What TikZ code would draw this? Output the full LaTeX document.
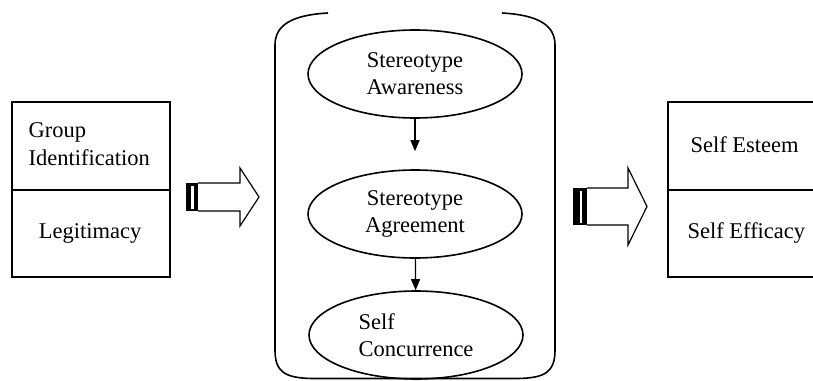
\documentclass[tikz,border=0pt]{standalone}
\usepackage{fontspec}
\setmainfont{Liberation Serif}
\usetikzlibrary{shapes.geometric,arrows.meta}
\begin{document}
\begin{tikzpicture}[x=1pt,y=-1pt,
  txt/.style={font=\fontsize{22.5}{27}\selectfont},
  boxpart/.style={draw,line width=1.6pt,minimum width=158pt,inner sep=0pt,anchor=north west},
  oval/.style={draw,ellipse,line width=1.6pt,minimum width=214pt,minimum height=88pt,inner sep=0pt,txt,align=center},
  flow/.style={line width=1.2pt,-{Triangle[length=11pt,width=9pt]}},
  bigarrow/.style={draw,line width=1.2pt,fill=white,line join=miter}]
\useasboundingbox (0,0) rectangle (813,380);
% left box
\node[boxpart,minimum height=88pt] (gi) at (11,101) {};
\node[boxpart,minimum height=87pt] (lg) at (11,189) {};
\node[txt,anchor=base west,align=left] (gitxt) at (25,137) {Group};
\node[txt,anchor=base west] (gitxt2) at (25,165) {Identification};
\node[txt,anchor=base] (lgtxt) at (90,238) {Legitimacy};
% right box
\node[boxpart,minimum width=170pt,minimum height=88pt] (se) at (667,101) {};
\node[boxpart,minimum width=170pt,minimum height=87pt] (sf) at (667,189) {};
\node[txt,anchor=base west] (setxt) at (687,152) {Self Esteem};
\node[txt,anchor=base west] (sftxt) at (684,238) {Self Efficacy};
% bracket
\draw[line width=1.6pt]
  (328,13) .. controls (292,15) and (275,25) .. (275,45) -- (275,350)
  .. controls (275,372) and (285,378) .. (312,378.5) -- (518,378.5)
  .. controls (545,378) and (555,372) .. (555,350) -- (555,45)
  .. controls (555,25) and (538,15) .. (502,13);
% ovals
\node[oval] (sa) at (415,74) {Stereotype\\Awareness};
\node[oval] (sg) at (415,214) {Stereotype\\Agreement};
\node[oval,align=left] (sc) at (416,335) {Self\\Concurrence};
\draw[flow,shorten >=18pt] (sa) -- (sg);
\draw[flow] (sg) -- (sc);
% big arrows
\fill (186,183) rectangle (198,211);
\fill[white] (191.3,185.5) rectangle (193.5,208.5);
\path[bigarrow] (198,183) -- (240,183) -- (240,168) -- (259,197) -- (240,226) -- (240,211) -- (198,211);
\fill (573,188) rectangle (587,225);
\fill[white] (579.8,190.5) rectangle (582.3,222.5);
\path[bigarrow] (587,188) -- (628,188) -- (628,168) -- (647,206.5) -- (628,245) -- (628,225) -- (587,225);
\end{tikzpicture}
\end{document}
